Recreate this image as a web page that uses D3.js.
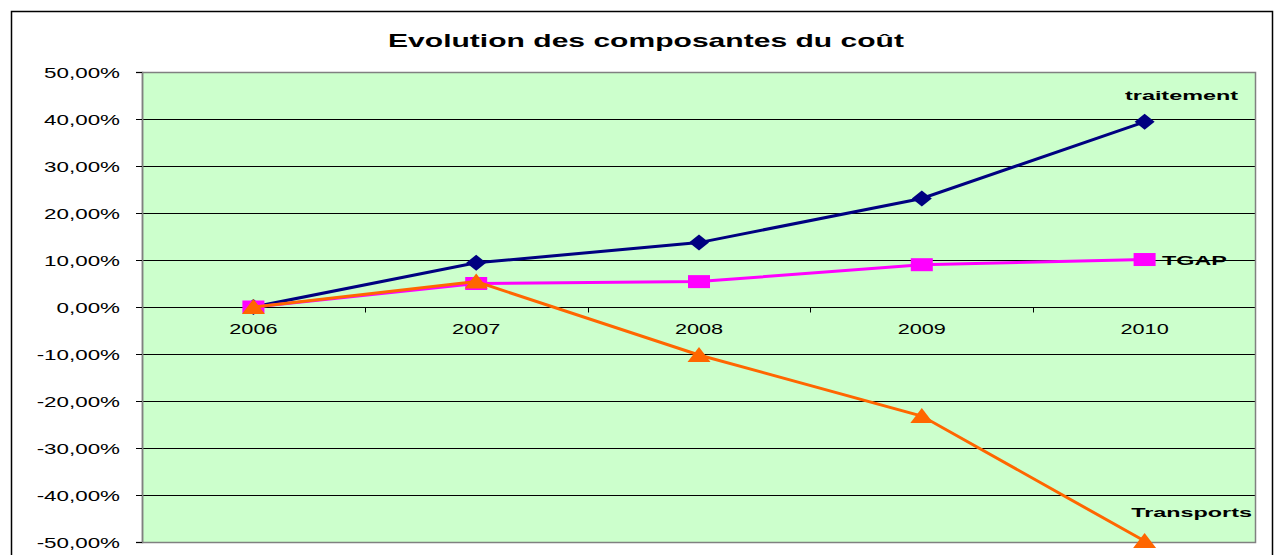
<!DOCTYPE html>
<html><head><meta charset="utf-8">
<script src="https://cdn.jsdelivr.net/npm/d3@7"></script>
<style>body{margin:0;background:#fff}svg{display:block}text{font-family:Arial,"Liberation Sans",sans-serif}</style>
</head><body>
<svg id="c" width="1279" height="555"></svg>
<script>
const title = "Evolution des composantes du coût";
const categories = ["2006","2007","2008","2009","2010"];
const traitement = [0.000, 0.094, 0.137, 0.231, 0.394];
const tgap       = [0.000, 0.050, 0.054, 0.090, 0.101];
const transports = [0.000, 0.054, -0.102, -0.232, -0.498];
const seriesNames = ["traitement","TGAP","Transports"];
const yTicks = [0.5,0.4,0.3,0.2,0.1,0,-0.1,-0.2,-0.3,-0.4,-0.5];

const svg = d3.select("#c");
const L=142, R=1256, T=72, B=542;
const x = d3.scaleBand().domain(categories).range([L,R]).padding(0);
const y = d3.scaleLinear().domain([-0.5,0.5]).range([B,T]);
const fr = d3.formatLocale({decimal:",",thousands:" ",grouping:[3],currency:["","€"]});
const fmt = v => fr.format(".2f")(v*100).replace("−","-") + "%";

// outer frame
svg.append("rect").attr("x",11.5).attr("y",11.5).attr("width",1261).attr("height",560)
  .attr("fill","#fff").attr("stroke","#000").attr("stroke-width",1.5);

// plot area
svg.append("rect").attr("x",L).attr("y",T).attr("width",R-L).attr("height",B-T).attr("fill","#CCFFCC");
// gridlines
svg.append("g").selectAll("line").data(yTicks.filter(v=>v<0.5&&v>-0.5)).join("line")
  .attr("x1",L).attr("x2",R).attr("y1",d=>Math.round(y(d))+0.5).attr("y2",d=>Math.round(y(d))+0.5)
  .attr("stroke","#000").attr("stroke-width",1);
svg.append("rect").attr("x",L+0.5).attr("y",T+0.5).attr("width",R-L-1).attr("height",B-T).attr("fill","none")
  .attr("stroke","#808080").attr("stroke-width",1.5);

// y axis
const yAxis = svg.append("g").attr("transform",`translate(${L},0)`)
  .call(d3.axisLeft(y).tickValues(yTicks).tickFormat(fmt).tickSize(6).tickPadding(0));
yAxis.select(".domain").attr("stroke","#808080").attr("stroke-width",1.5);
yAxis.selectAll(".tick line").attr("stroke","#000");
yAxis.selectAll(".tick text").text(null);
yAxis.selectAll(".tick").append("g").attr("transform","translate(-22,0) scale(1.6,1)")
  .append("text").attr("text-anchor","end").attr("dy","0.36em").attr("font-size",14).attr("fill","#000")
  .text(d=>fmt(d));

// x axis at zero
const y0 = Math.round(y(0))+0.5;
const xg = svg.append("g");
xg.selectAll("line").data(categories.slice(1)).join("line")
  .attr("x1",d=>Math.round(x(d))+0.5).attr("x2",d=>Math.round(x(d))+0.5).attr("y1",y0).attr("y2",y0+5)
  .attr("stroke","#000");
xg.selectAll("g").data(categories).join("g")
  .attr("transform",d=>`translate(${x(d)+x.bandwidth()/2},${y0+26}) scale(1.55,1)`)
  .append("text").attr("text-anchor","middle").attr("font-size",14).text(d=>d);

// title
svg.append("g").attr("transform","translate(646,47) scale(1.67,1)")
  .append("text").attr("text-anchor","middle").attr("font-size",18).attr("font-weight","bold").text(title);

const cx = c => x(c)+x.bandwidth()/2;
const line = vals => d3.line().x((d,i)=>cx(categories[i])).y(d=>y(d))(vals);

function series(vals,color,shape){
  svg.append("path").attr("d",line(vals)).attr("fill","none").attr("stroke",color).attr("stroke-width",3);
  const g = svg.append("g");
  vals.forEach((v,i)=>{
    const px=cx(categories[i]), py=y(v);
    if(shape==="diamond") g.append("path").attr("d",`M${px-10},${py}L${px},${py-8}L${px+10},${py}L${px},${py+8}Z`).attr("fill",color);
    if(shape==="square") g.append("rect").attr("x",px-11).attr("y",py-6.5).attr("width",22).attr("height",13).attr("fill",color);
    if(shape==="triangle") g.append("path").attr("d",`M${px},${py-8}L${px+11.5},${py+7}L${px-11.5},${py+7}Z`).attr("fill",color);
  });
}
series(traitement,"#000080","diamond");
series(tgap,"#FF00FF","square");
series(transports,"#FF6600","triangle");

// series labels
function label(txt,xx,yy,anchor){
  svg.append("g").attr("transform",`translate(${xx},${yy}) scale(1.8,1)`)
    .append("text").attr("text-anchor",anchor).attr("font-size",13).attr("font-weight","bold").text(txt);
}
label(seriesNames[0],1238,100,"end");
label(seriesNames[1],1162,265,"start");
label(seriesNames[2],1252,517,"end");
</script>
</body></html>
